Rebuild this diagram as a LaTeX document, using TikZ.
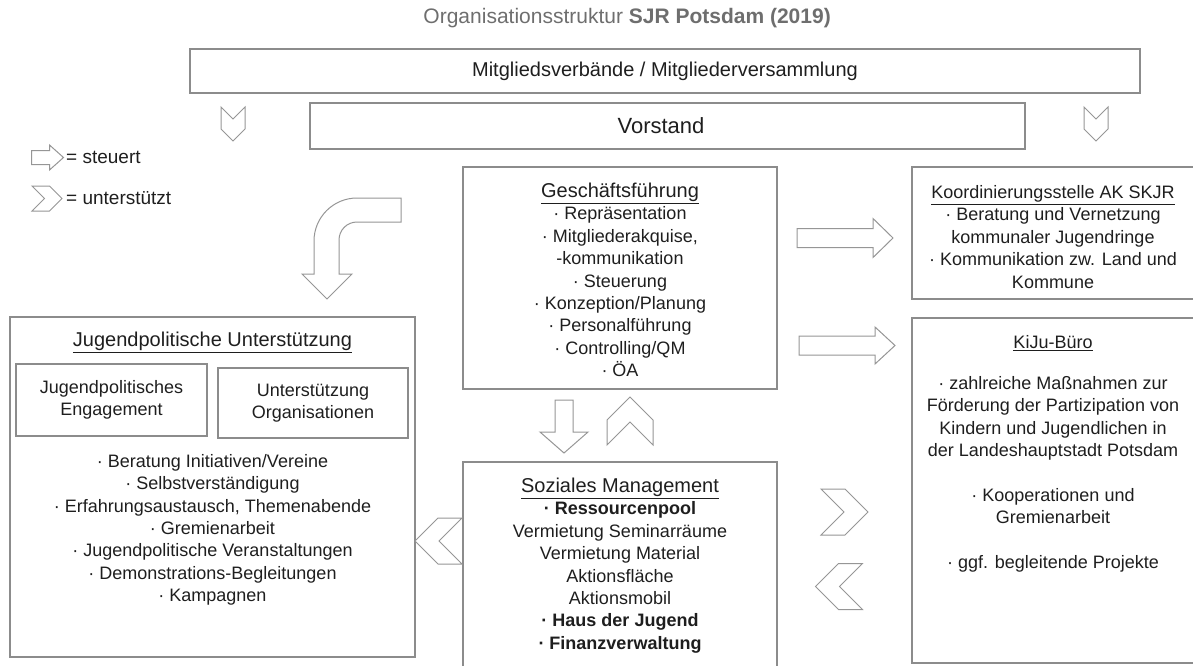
\documentclass[tikz,border=0pt]{standalone}
\usepackage{fontspec}
\setmainfont{Liberation Sans}
\usepackage{tikz}
\usetikzlibrary{positioning}
\definecolor{boxline}{RGB}{140,140,140}
\definecolor{arrowline}{RGB}{150,150,150}
\definecolor{bodytext}{RGB}{30,30,30}
\definecolor{titlegray}{RGB}{110,110,110}
\newcommand{\orgtitle}[1]{{\fontsize{20}{22.4}\selectfont\underline{#1}}}

\begin{document}
\begin{tikzpicture}[x=1pt, y=-1pt,
  orgbox/.style={draw=boxline, line width=1.3pt, rectangle, inner sep=0pt},
  txtstyle/.style={text=bodytext, font=\fontsize{18}{22.4}\selectfont, align=center, inner sep=0pt},
  bigtxt/.style={txtstyle, font=\fontsize{20}{22.4}\selectfont},
  arrowshape/.style={draw=arrowline, line width=1pt, fill=white, line join=miter},
  pics/chev/.style 2 args={code={
    \draw[arrowshape] (-#1/2,-#2/2) -- (#1/2-#2/2,-#2/2) -- (#1/2,0) -- (#1/2-#2/2,#2/2) -- (-#1/2,#2/2) -- (-#1/2+#2/2,0) -- cycle;
  }},
  pics/barrow/.style n args={4}{code={
    \draw[arrowshape] (-#1/2,-#2/2) -- (#1/2-#4,-#2/2) -- (#1/2-#4,-#3/2) -- (#1/2,0) -- (#1/2-#4,#3/2) -- (#1/2-#4,#2/2) -- (-#1/2,#2/2) -- cycle;
  }}]
  \useasboundingbox (0,0) rectangle (1193,666);

  % title
  \node[bigtxt, anchor=east, text=titlegray, font=\fontsize{21}{24}\selectfont] (title) at (831,18) {Organisationsstruktur \textbf{SJR Potsdam (2019)}};

  % legend
  \pic at (47.5,157.5) {barrow={32}{14}{25}{14}};
  \node[txtstyle, anchor=west, font=\fontsize{19}{22.4}\selectfont] (legsteuert) at (66,157) {= steuert};
  \pic at (47,198.5) {chev={30}{25}};
  \node[txtstyle, anchor=west, font=\fontsize{19}{22.4}\selectfont] (legunter) at (66,198) {= unterstützt};

  % Mitglieder und Vorstand
  \node[orgbox, minimum width=950, minimum height=44] (mv) at (665,71) {};
  \node[bigtxt] (mvtext) at (mv.center) {Mitgliedsverbände / Mitgliederversammlung};
  \node[orgbox, minimum width=715, minimum height=46] (vs) at (667.5,126) {};
  \node[bigtxt, font=\fontsize{22}{24}\selectfont] (vstext) at (661,126) {Vorstand};
  \pic[rotate=-90] at (233,124) {chev={34}{24}};
  \pic[rotate=-90] at (1096,124) {chev={34}{24}};

  % Geschaeftsfuehrung
  \node[orgbox, minimum width=314, minimum height=222] (gf) at (620,278) {};
  \node[txtstyle, below=16.5pt of gf.north] (gftext) {\orgtitle{Geschäftsführung}\\
    · Repräsentation\\ · Mitgliederakquise,\\ -kommunikation\\ · Steuerung\\
    · Konzeption/Planung\\ · Personalführung\\ · Controlling/QM\\ · ÖA};

  % Koordinierungsstelle
  \node[orgbox, minimum width=282, minimum height=132] (ko) at (1053,233) {};
  \node[txtstyle, below=19pt of ko.north] (kotext) {\underline{Koordinierungsstelle AK SKJR}\\
    · Beratung und Vernetzung\\ kommunaler Jugendringe\\ · Kommunikation zw. Land und\\ Kommune};

  % KiJu-Buero
  \node[orgbox, minimum width=282, minimum height=345] (kj) at (1053,490.5) {};
  \node[txtstyle, below=18pt of kj.north] (kjtext) {\underline{KiJu-Büro}\\[18.6pt]
    · zahlreiche Maßnahmen zur\\ Förderung der Partizipation von\\ Kindern und Jugendlichen in\\
    der Landeshauptstadt Potsdam\\[22.4pt] · Kooperationen und\\ Gremienarbeit\\[22.4pt]
    · ggf. begleitende Projekte};

  % Jugendpolitische Unterstuetzung
  \node[orgbox, minimum width=405, minimum height=340] (ju) at (212.5,487) {};
  \node[txtstyle, below=15.5pt of ju.north] (jutitle) {\orgtitle{Jugendpolitische Unterstützung}};
  \node[orgbox, txtstyle, minimum width=191, minimum height=72] (je) at (111.5,400) {Jugendpolitisches\\ Engagement};
  \node[orgbox, txtstyle, minimum width=190, minimum height=70] (uo) at (313,403) {Unterstützung\\ Organisationen};
  \node[txtstyle, anchor=north] (julist) at (212.5,454) {· Beratung Initiativen/Vereine\\
    · Selbstverständigung\\ · Erfahrungsaustausch, Themenabende\\ · Gremienarbeit\\
    · Jugendpolitische Veranstaltungen\\ · Demonstrations-Begleitungen\\ · Kampagnen};

  % Soziales Management
  \node[orgbox, minimum width=314, minimum height=258] (sm) at (620,591) {};
  \node[txtstyle, below=16.5pt of sm.north] (smtext) {\orgtitle{Soziales Management}\\
    \textbf{· Ressourcenpool}\\ Vermietung Seminarräume\\ Vermietung Material\\
    Aktionsfläche\\ Aktionsmobil\\ \textbf{· Haus der Jugend}\\ \textbf{· Finanzverwaltung}};

  % steuert
  \pic at (845,238) {barrow={96}{19}{39}{20}};
  \pic at (847,345.5) {barrow={96}{19}{37}{20}};
  \pic[rotate=-90] at (564,426.5) {barrow={53}{18}{48}{21}};
  \draw[arrowshape] (401,198) -- (357,198) arc[start angle=-90, end angle=-180, radius=43]
    -- (314,274) -- (302,274) -- (327,299) -- (352,274) -- (339,274) -- (339,240)
    arc[start angle=180, end angle=270, radius=18] -- (401,222) -- cycle;

  % unterstuetzt
  \pic[rotate=90] at (630,421) {chev={48}{46}};
  \pic[rotate=180] at (438.5,541) {chev={47}{46}};
  \pic at (844.5,512) {chev={47}{46}};
  \pic[rotate=180] at (839,586.5) {chev={47}{46}};
\end{tikzpicture}
\end{document}
